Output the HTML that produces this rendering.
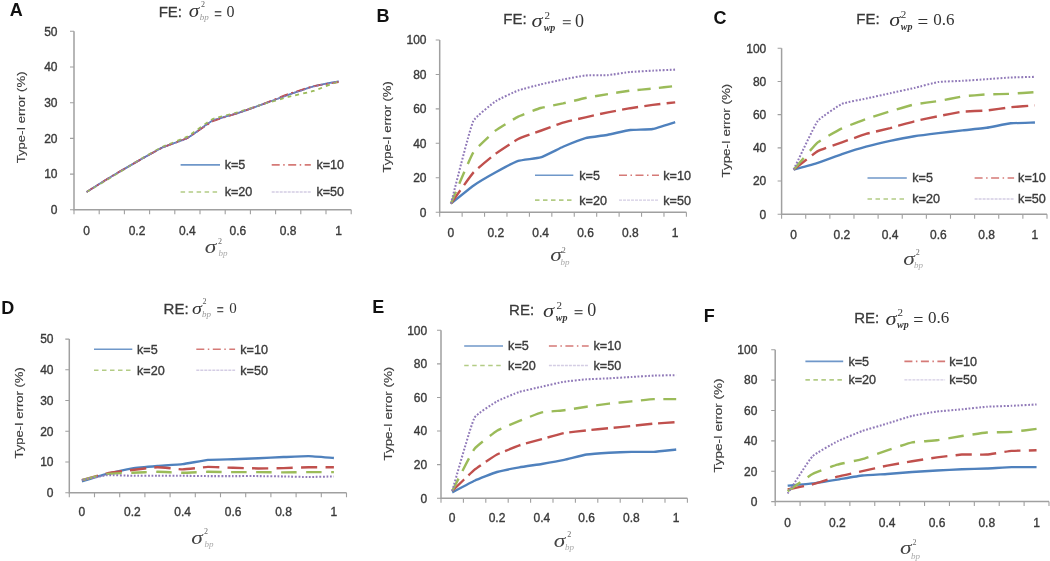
<!DOCTYPE html>
<html><head><meta charset="utf-8"><style>
html,body{margin:0;padding:0;background:#fff;}
body{width:1050px;height:561px;overflow:hidden;}
svg{display:block;filter:blur(0.45px);}
.t{font-family:"Liberation Sans",sans-serif;font-size:12px;fill:#3a3a3a;stroke:#3a3a3a;stroke-width:0.35px;}
.lg{font-size:12.6px;}
.yl{font-size:11.5px;stroke-width:0.15px;}
</style></head><body>
<svg width="1050" height="561" viewBox="0 0 1050 561">
<rect width="1050" height="561" fill="#fff"/>
<text x="9.80" y="16.02" font-family='"Liberation Sans"' font-style="normal" font-weight="bold" font-size="18" fill="#111">A</text>
<path d="M74 31.3V209.8H351.2" fill="none" stroke="#a0a0a0" stroke-width="1.5"/>
<path d="M70 209.8h4M70 174.1h4M70 138.4h4M70 102.7h4M70 67h4M70 31.3h4M74 209.8v4.5M99.2 209.8v4.5M124.4 209.8v4.5M149.6 209.8v4.5M174.8 209.8v4.5M200 209.8v4.5M225.2 209.8v4.5M250.4 209.8v4.5M275.6 209.8v4.5M300.8 209.8v4.5M326 209.8v4.5M351.2 209.8v4.5" stroke="#a0a0a0" stroke-width="1.1" fill="none"/>
<text x="57.5" y="214.1" text-anchor="end" class="t">0</text>
<text x="57.5" y="178.4" text-anchor="end" class="t">10</text>
<text x="57.5" y="142.7" text-anchor="end" class="t">20</text>
<text x="57.5" y="107" text-anchor="end" class="t">30</text>
<text x="57.5" y="71.3" text-anchor="end" class="t">40</text>
<text x="57.5" y="35.6" text-anchor="end" class="t">50</text>
<text x="86.6" y="234.9" text-anchor="middle" class="t">0</text>
<text x="137" y="234.9" text-anchor="middle" class="t">0.2</text>
<text x="187.4" y="234.9" text-anchor="middle" class="t">0.4</text>
<text x="237.8" y="234.9" text-anchor="middle" class="t">0.6</text>
<text x="288.2" y="234.9" text-anchor="middle" class="t">0.8</text>
<text x="338.6" y="234.9" text-anchor="middle" class="t">1</text>
<text transform="translate(24.7 117.4) rotate(-90)" text-anchor="middle" class="t yl" textLength="91.8" lengthAdjust="spacingAndGlyphs">Type-I error (%)</text>
<path d="M86.6 191.95C89.62 190.07 108.75 178.08 111.8 176.24C114.8 174.44 133.96 163.33 137 161.61C140.01 159.9 159.07 149.15 162.2 147.68C165.13 146.31 184.55 139.58 187.4 138.04C190.64 136.3 209.3 122.19 212.6 120.55C215.43 119.15 234.8 114.03 237.8 113.05C240.85 112.06 259.98 105.22 263 104.13C266.03 103.03 285.16 95.92 288.2 94.85C291.21 93.78 310.32 87.11 313.4 86.28C316.38 85.48 335.58 81.88 338.6 81.28" fill="none" stroke-linejoin="round" stroke="#4F81BD" stroke-width="1.8"/>
<path d="M86.6 191.95C89.62 190.07 108.75 178.08 111.8 176.24C114.8 174.44 133.96 163.33 137 161.61C140.01 159.9 159.07 149.15 162.2 147.68C165.13 146.31 184.53 139.55 187.4 138.04C190.62 136.36 209.35 122.88 212.6 121.26C215.45 119.85 234.79 114.08 237.8 113.05C240.84 112.02 260 105.26 263 104.13C266.05 102.98 285.13 95.22 288.2 94.13C291.19 93.07 310.32 87.02 313.4 86.28C316.38 85.56 335.58 82.51 338.6 81.99" fill="none" stroke-linejoin="round" stroke="#C0504D" stroke-width="1.8" stroke-dasharray="9 3.5 2 3.5"/>
<path d="M86.6 191.95C89.62 190.15 108.79 178.79 111.8 176.96C114.84 175.1 133.94 163.07 137 161.25C139.99 159.47 159.08 148.49 162.2 146.97C165.14 145.53 184.54 138.2 187.4 136.62C190.62 134.83 209.28 120.72 212.6 119.12C215.42 117.76 234.8 113.23 237.8 112.34C240.85 111.43 259.96 105.05 263 104.13C266.01 103.21 285.16 97.78 288.2 96.99C291.21 96.2 310.43 91.84 313.4 90.92C316.49 89.96 335.58 82.44 338.6 81.28" fill="none" stroke-linejoin="round" stroke="#9BBB59" stroke-width="1.8" stroke-dasharray="4 4"/>
<path d="M86.6 191.95C89.62 190.07 108.75 178.08 111.8 176.24C114.8 174.44 133.96 163.33 137 161.61C140.01 159.9 159.06 149.13 162.2 147.68C165.13 146.33 184.56 139.93 187.4 138.4C190.66 136.64 209.29 122.21 212.6 120.55C215.42 119.13 234.8 114.03 237.8 113.05C240.85 112.06 259.98 105.22 263 104.13C266.03 103.03 285.16 95.9 288.2 94.85C291.2 93.8 310.33 87.46 313.4 86.64C316.39 85.83 335.58 81.92 338.6 81.28" fill="none" stroke-linejoin="round" stroke="#9079b8" stroke-width="1.53" stroke-dasharray="1.8 1.7"/>
<path d="M180.6 164.9H220" stroke="#6f97c9" stroke-width="1.6"/>
<text x="224.7" y="169.3" class="t lg">k=5</text>
<path d="M271.7 164.9H310.8" stroke="#d57a77" stroke-width="1.6" stroke-dasharray="8 3.5 1.5 3.5"/>
<text x="316.4" y="169.3" class="t lg">k=10</text>
<path d="M180.6 192H220" stroke="#b3cc85" stroke-width="1.6" stroke-dasharray="4.5 3.5"/>
<text x="224.7" y="196.4" class="t lg">k=20</text>
<path d="M271.7 192H310.8" stroke="#d4cde4" stroke-width="1.4" stroke-dasharray="3 1"/>
<text x="316.4" y="196.4" class="t lg">k=50</text>
<text x="158.68" y="17.12" font-family='"Liberation Sans"' font-style="normal" font-weight="normal" font-size="15" fill="#3a3a3a" stroke="#3a3a3a" stroke-width="0.3">FE:</text>
<text transform="translate(194.60 12.85) scale(1.180 1) translate(-5.00 4.50)" font-family='"Liberation Serif"' font-style="italic" font-weight="normal" font-size="18" fill="#333333">σ</text>
<text x="200.97" y="7.47" font-family='"Liberation Serif"' font-style="normal" font-weight="normal" font-size="8" fill="#555">2</text>
<text x="199.80" y="20.43" font-family='"Liberation Serif"' font-style="italic" font-weight="normal" font-size="9" fill="#9a9a9a">bp</text>
<text x="214.25" y="17.52" font-family='"Liberation Sans"' font-style="normal" font-weight="bold" font-size="13" fill="#555">=</text>
<text x="226.60" y="16.83" font-family='"Liberation Serif"' font-style="normal" font-weight="normal" font-size="16" fill="#333333">0</text>
<text transform="translate(211.20 248.20) scale(1.300 1) translate(-5.00 4.50)" font-family='"Liberation Serif"' font-style="italic" font-weight="normal" font-size="18" fill="#444">σ</text>
<text x="218.07" y="243.53" font-family='"Liberation Serif"' font-style="normal" font-weight="normal" font-size="8" fill="#666">2</text>
<text x="218.40" y="256.38" font-family='"Liberation Serif"' font-style="italic" font-weight="normal" font-size="9" fill="#aaaaaa">bp</text>
<text x="376.40" y="21.88" font-family='"Liberation Sans"' font-style="normal" font-weight="bold" font-size="18" fill="#111">B</text>
<path d="M439.7 40V212.2H686.4" fill="none" stroke="#a0a0a0" stroke-width="1.5"/>
<path d="M435.7 212.2h4M435.7 177.76h4M435.7 143.32h4M435.7 108.88h4M435.7 74.44h4M435.7 40h4M439.7 212.2v4.5M462.13 212.2v4.5M484.55 212.2v4.5M506.98 212.2v4.5M529.41 212.2v4.5M551.84 212.2v4.5M574.26 212.2v4.5M596.69 212.2v4.5M619.12 212.2v4.5M641.55 212.2v4.5M663.97 212.2v4.5M686.4 212.2v4.5" stroke="#a0a0a0" stroke-width="1.1" fill="none"/>
<text x="426.5" y="216.5" text-anchor="end" class="t">0</text>
<text x="426.5" y="182.06" text-anchor="end" class="t">20</text>
<text x="426.5" y="147.62" text-anchor="end" class="t">40</text>
<text x="426.5" y="113.18" text-anchor="end" class="t">60</text>
<text x="426.5" y="78.74" text-anchor="end" class="t">80</text>
<text x="426.5" y="44.3" text-anchor="end" class="t">100</text>
<text x="450.91" y="236.8" text-anchor="middle" class="t">0</text>
<text x="495.77" y="236.8" text-anchor="middle" class="t">0.2</text>
<text x="540.62" y="236.8" text-anchor="middle" class="t">0.4</text>
<text x="585.48" y="236.8" text-anchor="middle" class="t">0.6</text>
<text x="630.33" y="236.8" text-anchor="middle" class="t">0.8</text>
<text x="675.19" y="236.8" text-anchor="middle" class="t">1</text>
<text transform="translate(391.2 126.9) rotate(-90)" text-anchor="middle" class="t yl" textLength="91.3" lengthAdjust="spacingAndGlyphs">Type-I error (%)</text>
<path d="M450.91 203.59C453.6 201.44 470.52 187.65 473.34 185.68C475.91 183.88 493.02 173.77 495.77 172.25C498.41 170.79 515.33 161.83 518.2 160.88C520.78 160.03 538.03 158.26 540.62 157.44C543.47 156.55 560.31 147.94 563.05 146.76C565.7 145.63 582.69 138.9 585.48 138.15C588.11 137.45 605.22 135.19 607.9 134.71C610.61 134.22 627.61 130.41 630.33 130.06C633 129.72 650.11 129.5 652.76 129.03C655.53 128.54 672.5 122.97 675.19 122.14" fill="none" stroke-linejoin="round" stroke="#4F81BD" stroke-width="2.4"/>
<path d="M450.91 203.59C453.6 199.87 470.27 176.01 473.34 172.59C475.69 169.97 492.95 155.76 495.77 153.65C498.34 151.73 515.33 140.48 518.2 139.01C520.75 137.71 537.93 131.73 540.62 130.75C543.31 129.77 560.31 123.48 563.05 122.66C565.7 121.86 582.78 117.94 585.48 117.32C588.16 116.7 605.2 112.87 607.9 112.32C610.59 111.78 627.63 108.64 630.33 108.19C633.02 107.75 650.06 105.27 652.76 104.92C655.45 104.57 672.5 102.65 675.19 102.34" fill="none" stroke-linejoin="round" stroke="#C0504D" stroke-width="2.4" stroke-dasharray="16.5 6"/>
<path d="M450.91 203.59C453.6 197.43 469.83 158 473.34 152.27C475.31 149.07 492.83 132.74 495.77 130.4C498.24 128.44 515.37 118.04 518.2 116.63C520.77 115.34 537.86 108.84 540.62 108.02C543.26 107.24 560.37 103.97 563.05 103.37C565.75 102.77 582.77 98.59 585.48 98.03C588.15 97.48 605.21 94.52 607.9 94.07C610.59 93.63 627.63 90.96 630.33 90.63C633.01 90.3 650.07 88.84 652.76 88.56C655.45 88.28 672.5 86.29 675.19 85.98" fill="none" stroke-linejoin="round" stroke="#9BBB59" stroke-width="2.4" stroke-dasharray="13 8.5"/>
<path d="M450.91 203.59C453.6 193.67 469.22 130.35 473.34 120.93C474.78 117.65 492.8 103.15 495.77 101.13C498.23 99.46 515.4 91.49 518.2 90.45C520.81 89.48 537.92 85.09 540.62 84.43C543.3 83.77 560.35 79.97 563.05 79.43C565.73 78.9 582.76 75.73 585.48 75.47C588.16 75.22 605.22 75.33 607.9 75.13C610.61 74.92 627.63 72.3 630.33 72.03C633.01 71.76 650.07 70.8 652.76 70.65C655.45 70.51 672.5 69.74 675.19 69.62" fill="none" stroke-linejoin="round" stroke="#9079b8" stroke-width="2.04" stroke-dasharray="1.8 1.7"/>
<path d="M535 175.3H573.3" stroke="#6f97c9" stroke-width="1.6"/>
<text x="579.3" y="179.7" class="t lg">k=5</text>
<path d="M619 175.3H659" stroke="#d57a77" stroke-width="1.6" stroke-dasharray="8 3.5 1.5 3.5"/>
<text x="663.3" y="179.7" class="t lg">k=10</text>
<path d="M535 200.1H573.3" stroke="#b3cc85" stroke-width="1.6" stroke-dasharray="4.5 3.5"/>
<text x="579.3" y="204.5" class="t lg">k=20</text>
<path d="M619 200.1H659" stroke="#d4cde4" stroke-width="1.4" stroke-dasharray="3 1"/>
<text x="663.3" y="204.5" class="t lg">k=50</text>
<text x="503.23" y="23.98" font-family='"Liberation Sans"' font-style="normal" font-weight="normal" font-size="15" fill="#3a3a3a" stroke="#3a3a3a" stroke-width="0.3">FE:</text>
<text transform="translate(537.65 22.30) scale(1.180 1) translate(-5.25 4.75)" font-family='"Liberation Serif"' font-style="italic" font-weight="normal" font-size="19" fill="#333333">σ</text>
<text x="544.60" y="18.57" font-family='"Liberation Serif"' font-style="normal" font-weight="normal" font-size="11" fill="#333333">2</text>
<text x="543.70" y="31.10" font-family='"Liberation Serif"' font-style="italic" font-weight="bold" font-size="10" fill="#333333">wp</text>
<text x="562.00" y="28.42" font-family='"Liberation Serif"' font-style="normal" font-weight="bold" font-size="17" fill="#666">=</text>
<text x="575.05" y="27.12" font-family='"Liberation Serif"' font-style="normal" font-weight="normal" font-size="18" fill="#333333">0</text>
<text transform="translate(556.75 256.15) scale(1.300 1) translate(-5.00 4.50)" font-family='"Liberation Serif"' font-style="italic" font-weight="normal" font-size="18" fill="#444">σ</text>
<text x="561.83" y="252.72" font-family='"Liberation Serif"' font-style="normal" font-weight="normal" font-size="8" fill="#666">2</text>
<text x="560.45" y="264.58" font-family='"Liberation Serif"' font-style="italic" font-weight="normal" font-size="9" fill="#aaaaaa">bp</text>
<text x="713.52" y="23.58" font-family='"Liberation Sans"' font-style="normal" font-weight="bold" font-size="18" fill="#111">C</text>
<path d="M781.6 48.3V214.2H1047" fill="none" stroke="#a0a0a0" stroke-width="1.5"/>
<path d="M777.6 214.2h4M777.6 181.02h4M777.6 147.84h4M777.6 114.66h4M777.6 81.48h4M777.6 48.3h4M781.6 214.2v4.5M805.73 214.2v4.5M829.85 214.2v4.5M853.98 214.2v4.5M878.11 214.2v4.5M902.24 214.2v4.5M926.36 214.2v4.5M950.49 214.2v4.5M974.62 214.2v4.5M998.75 214.2v4.5M1022.87 214.2v4.5M1047 214.2v4.5" stroke="#a0a0a0" stroke-width="1.1" fill="none"/>
<text x="766.3" y="218.5" text-anchor="end" class="t">0</text>
<text x="766.3" y="185.32" text-anchor="end" class="t">20</text>
<text x="766.3" y="152.14" text-anchor="end" class="t">40</text>
<text x="766.3" y="118.96" text-anchor="end" class="t">60</text>
<text x="766.3" y="85.78" text-anchor="end" class="t">80</text>
<text x="766.3" y="52.6" text-anchor="end" class="t">100</text>
<text x="793.66" y="238.6" text-anchor="middle" class="t">0</text>
<text x="841.92" y="238.6" text-anchor="middle" class="t">0.2</text>
<text x="890.17" y="238.6" text-anchor="middle" class="t">0.4</text>
<text x="938.43" y="238.6" text-anchor="middle" class="t">0.6</text>
<text x="986.68" y="238.6" text-anchor="middle" class="t">0.8</text>
<text x="1034.94" y="238.6" text-anchor="middle" class="t">1</text>
<text transform="translate(730.1 130.6) rotate(-90)" text-anchor="middle" class="t yl" textLength="93.8" lengthAdjust="spacingAndGlyphs">Type-I error (%)</text>
<path d="M793.66 169.57C796.56 168.76 814.93 163.69 817.79 162.77C820.72 161.83 839 155.12 841.92 154.14C844.79 153.19 863.12 147.48 866.05 146.68C868.92 145.89 887.26 141.5 890.17 140.87C893.05 140.25 911.39 136.7 914.3 136.23C917.18 135.76 935.53 133.42 938.43 133.07C941.32 132.73 959.66 130.74 962.55 130.42C965.45 130.1 983.8 128.19 986.68 127.77C989.59 127.34 1007.88 123.61 1010.81 123.29C1013.69 122.97 1032.04 122.56 1034.94 122.46" fill="none" stroke-linejoin="round" stroke="#4F81BD" stroke-width="2.4"/>
<path d="M793.66 169.57C796.56 167.36 814.62 152.95 817.79 151.16C820.48 149.64 839.02 143.4 841.92 142.37C844.81 141.33 863.1 134.77 866.05 133.9C868.9 133.06 887.29 128.85 890.17 128.1C893.08 127.34 911.38 122.02 914.3 121.3C917.17 120.58 935.52 116.73 938.43 116.15C941.32 115.58 959.63 112.02 962.55 111.67C965.43 111.34 983.8 110.78 986.68 110.51C989.59 110.24 1007.9 107.5 1010.81 107.19C1013.7 106.89 1032.04 105.59 1034.94 105.37" fill="none" stroke-linejoin="round" stroke="#C0504D" stroke-width="2.4" stroke-dasharray="16.5 6.5"/>
<path d="M793.66 169.57C796.56 166.31 814.47 145.2 817.79 142.37C820.34 140.2 838.91 129.89 841.92 128.43C844.72 127.07 863.11 120.01 866.05 118.97C868.91 117.96 887.27 112.22 890.17 111.34C893.06 110.47 911.35 105 914.3 104.37C917.16 103.76 935.54 101.53 938.43 101.06C941.34 100.58 959.63 96.81 962.55 96.41C965.43 96.02 983.78 94.58 986.68 94.42C989.57 94.26 1007.92 93.9 1010.81 93.76C1013.71 93.62 1032.04 92.3 1034.94 92.1" fill="none" stroke-linejoin="round" stroke="#9BBB59" stroke-width="2.4" stroke-dasharray="15.5 9"/>
<path d="M793.66 169.57C796.56 163.74 813.94 126.21 817.79 120.96C819.89 118.1 838.7 105.37 841.92 103.88C844.61 102.63 863.15 99.2 866.05 98.57C868.94 97.93 887.28 93.9 890.17 93.26C893.07 92.62 911.41 88.62 914.3 87.95C917.2 87.27 935.48 82.41 938.43 81.98C941.29 81.55 959.66 80.99 962.55 80.82C965.45 80.65 983.79 79.36 986.68 79.16C989.58 78.96 1007.91 77.64 1010.81 77.5C1013.7 77.36 1032.04 76.91 1034.94 76.83" fill="none" stroke-linejoin="round" stroke="#9079b8" stroke-width="2.04" stroke-dasharray="1.8 1.7"/>
<path d="M867.5 178H906.8" stroke="#6f97c9" stroke-width="1.6"/>
<text x="912.3" y="182.4" class="t lg">k=5</text>
<path d="M974.6 178H1014.1" stroke="#d57a77" stroke-width="1.6" stroke-dasharray="8 3.5 1.5 3.5"/>
<text x="1018.1" y="182.4" class="t lg">k=10</text>
<path d="M867.5 199H906.8" stroke="#b3cc85" stroke-width="1.6" stroke-dasharray="4.5 3.5"/>
<text x="912.3" y="203.4" class="t lg">k=20</text>
<path d="M974.6 199H1014.1" stroke="#d4cde4" stroke-width="1.4" stroke-dasharray="3 1"/>
<text x="1018.1" y="203.4" class="t lg">k=50</text>
<text x="856.23" y="24.02" font-family='"Liberation Sans"' font-style="normal" font-weight="normal" font-size="15" fill="#3a3a3a" stroke="#3a3a3a" stroke-width="0.3">FE:</text>
<text transform="translate(895.40 21.70) scale(1.180 1) translate(-5.25 4.75)" font-family='"Liberation Serif"' font-style="italic" font-weight="normal" font-size="19" fill="#333333">σ</text>
<text x="900.70" y="18.23" font-family='"Liberation Serif"' font-style="normal" font-weight="normal" font-size="11" fill="#333333">2</text>
<text x="900.75" y="30.40" font-family='"Liberation Serif"' font-style="italic" font-weight="bold" font-size="10" fill="#333333">wp</text>
<text x="917.58" y="28.07" font-family='"Liberation Serif"' font-style="normal" font-weight="normal" font-size="19" fill="#333333">=</text>
<text x="933.25" y="24.70" font-family='"Liberation Serif"' font-style="normal" font-weight="normal" font-size="17" fill="#333333">0.6</text>
<text transform="translate(909.75 260.00) scale(1.300 1) translate(-5.00 4.50)" font-family='"Liberation Serif"' font-style="italic" font-weight="normal" font-size="18" fill="#444">σ</text>
<text x="915.77" y="255.12" font-family='"Liberation Serif"' font-style="normal" font-weight="normal" font-size="8" fill="#666">2</text>
<text x="914.00" y="268.12" font-family='"Liberation Serif"' font-style="italic" font-weight="normal" font-size="9" fill="#aaaaaa">bp</text>
<text x="1.35" y="314.08" font-family='"Liberation Sans"' font-style="normal" font-weight="bold" font-size="18" fill="#111">D</text>
<path d="M69.3 339.1V492.7H346.5" fill="none" stroke="#a0a0a0" stroke-width="1.5"/>
<path d="M65.3 492.7h4M65.3 461.98h4M65.3 431.26h4M65.3 400.54h4M65.3 369.82h4M65.3 339.1h4M69.3 492.7v4.5M94.5 492.7v4.5M119.7 492.7v4.5M144.9 492.7v4.5M170.1 492.7v4.5M195.3 492.7v4.5M220.5 492.7v4.5M245.7 492.7v4.5M270.9 492.7v4.5M296.1 492.7v4.5M321.3 492.7v4.5M346.5 492.7v4.5" stroke="#a0a0a0" stroke-width="1.1" fill="none"/>
<text x="53.5" y="497" text-anchor="end" class="t">0</text>
<text x="53.5" y="466.28" text-anchor="end" class="t">10</text>
<text x="53.5" y="435.56" text-anchor="end" class="t">20</text>
<text x="53.5" y="404.84" text-anchor="end" class="t">30</text>
<text x="53.5" y="374.12" text-anchor="end" class="t">40</text>
<text x="53.5" y="343.4" text-anchor="end" class="t">50</text>
<text x="81.9" y="516.3" text-anchor="middle" class="t">0</text>
<text x="132.3" y="516.3" text-anchor="middle" class="t">0.2</text>
<text x="182.7" y="516.3" text-anchor="middle" class="t">0.4</text>
<text x="233.1" y="516.3" text-anchor="middle" class="t">0.6</text>
<text x="283.5" y="516.3" text-anchor="middle" class="t">0.8</text>
<text x="333.9" y="516.3" text-anchor="middle" class="t">1</text>
<text transform="translate(22.7 412.9) rotate(-90)" text-anchor="middle" class="t yl" textLength="91.3" lengthAdjust="spacingAndGlyphs">Type-I error (%)</text>
<path d="M81.9 481.33C84.92 480.45 104.05 474.74 107.1 473.96C110.1 473.19 129.24 468.92 132.3 468.43C135.3 467.96 154.47 466.23 157.5 465.97C160.52 465.72 179.69 464.5 182.7 464.13C185.75 463.76 204.85 460.13 207.9 459.83C210.91 459.54 230.08 459.31 233.1 459.22C236.12 459.12 255.28 458.42 258.3 458.29C261.32 458.16 280.48 457.19 283.5 457.06C286.52 456.94 305.67 456.09 308.7 456.14C311.73 456.2 330.88 457.77 333.9 457.99" fill="none" stroke-linejoin="round" stroke="#4F81BD" stroke-width="2.4"/>
<path d="M81.9 480.1C84.92 479.29 104.03 473.96 107.1 473.35C110.09 472.74 129.27 470.34 132.3 469.97C135.32 469.6 154.46 467.24 157.5 467.2C160.53 467.17 179.67 469.37 182.7 469.35C185.74 469.33 204.86 466.99 207.9 466.9C210.92 466.8 230.08 467.72 233.1 467.82C236.12 467.91 255.28 468.41 258.3 468.43C261.32 468.45 280.48 468.2 283.5 468.12C286.53 468.05 305.67 467.26 308.7 467.2C311.72 467.15 330.88 467.2 333.9 467.2" fill="none" stroke-linejoin="round" stroke="#C0504D" stroke-width="2.4" stroke-dasharray="16.5 8"/>
<path d="M81.9 480.1C84.92 479.37 104.02 474.41 107.1 473.96C110.1 473.52 129.28 472.86 132.3 472.73C135.32 472.6 154.47 471.81 157.5 471.81C160.53 471.81 179.67 472.73 182.7 472.73C185.73 472.73 204.87 471.85 207.9 471.81C210.92 471.77 230.08 472.1 233.1 472.12C236.12 472.14 255.28 472.1 258.3 472.12C261.32 472.14 280.48 472.42 283.5 472.42C286.52 472.42 305.68 472.14 308.7 472.12C311.72 472.1 330.88 472.12 333.9 472.12" fill="none" stroke-linejoin="round" stroke="#9BBB59" stroke-width="2.4" stroke-dasharray="15.5 9.5"/>
<path d="M81.9 480.1C84.92 479.51 104.03 475.45 107.1 475.19C110.11 474.93 129.28 475.77 132.3 475.8C135.32 475.84 154.48 475.8 157.5 475.8C160.52 475.8 179.68 475.79 182.7 475.8C185.72 475.82 204.88 476.09 207.9 476.11C210.92 476.13 230.08 476.11 233.1 476.11C236.12 476.11 255.28 476.09 258.3 476.11C261.32 476.13 280.48 476.36 283.5 476.42C286.52 476.47 305.68 477.03 308.7 477.03C311.72 477.03 330.88 476.49 333.9 476.42" fill="none" stroke-linejoin="round" stroke="#9079b8" stroke-width="2.04" stroke-dasharray="1.8 1.7"/>
<path d="M94 349.3H132.3" stroke="#6f97c9" stroke-width="1.6"/>
<text x="137" y="353.7" class="t lg">k=5</text>
<path d="M196.3 349.3H235.1" stroke="#d57a77" stroke-width="1.6" stroke-dasharray="8 3.5 1.5 3.5"/>
<text x="240.3" y="353.7" class="t lg">k=10</text>
<path d="M94 370.2H132.3" stroke="#b3cc85" stroke-width="1.6" stroke-dasharray="4.5 3.5"/>
<text x="137" y="374.6" class="t lg">k=20</text>
<path d="M196.3 370.2H235.1" stroke="#d4cde4" stroke-width="1.4" stroke-dasharray="3 1"/>
<text x="240.3" y="374.6" class="t lg">k=50</text>
<text x="163.57" y="314.43" font-family='"Liberation Sans"' font-style="normal" font-weight="normal" font-size="15" fill="#3a3a3a" stroke="#3a3a3a" stroke-width="0.3">RE:</text>
<text transform="translate(197.60 309.55) scale(1.180 1) translate(-4.75 4.25)" font-family='"Liberation Serif"' font-style="italic" font-weight="normal" font-size="17" fill="#333333">σ</text>
<text x="202.43" y="304.02" font-family='"Liberation Serif"' font-style="normal" font-weight="normal" font-size="8" fill="#555">2</text>
<text x="201.95" y="316.88" font-family='"Liberation Serif"' font-style="italic" font-weight="normal" font-size="9" fill="#9a9a9a">bp</text>
<text x="216.75" y="313.80" font-family='"Liberation Sans"' font-style="normal" font-weight="bold" font-size="12" fill="#555">=</text>
<text x="229.35" y="312.85" font-family='"Liberation Serif"' font-style="normal" font-weight="normal" font-size="15" fill="#333333">0</text>
<text transform="translate(197.75 539.20) scale(1.300 1) translate(-5.00 4.50)" font-family='"Liberation Serif"' font-style="italic" font-weight="normal" font-size="18" fill="#444">σ</text>
<text x="204.07" y="534.02" font-family='"Liberation Serif"' font-style="normal" font-weight="normal" font-size="8" fill="#666">2</text>
<text x="204.55" y="547.48" font-family='"Liberation Serif"' font-style="italic" font-weight="normal" font-size="9" fill="#aaaaaa">bp</text>
<text x="372.25" y="313.12" font-family='"Liberation Sans"' font-style="normal" font-weight="bold" font-size="18" fill="#111">E</text>
<path d="M441 330.3V498.2H687.4" fill="none" stroke="#a0a0a0" stroke-width="1.5"/>
<path d="M437 498.2h4M437 464.62h4M437 431.04h4M437 397.46h4M437 363.88h4M437 330.3h4M441 498.2v4.5M463.4 498.2v4.5M485.8 498.2v4.5M508.2 498.2v4.5M530.6 498.2v4.5M553 498.2v4.5M575.4 498.2v4.5M597.8 498.2v4.5M620.2 498.2v4.5M642.6 498.2v4.5M665 498.2v4.5M687.4 498.2v4.5" stroke="#a0a0a0" stroke-width="1.1" fill="none"/>
<text x="427.2" y="502.5" text-anchor="end" class="t">0</text>
<text x="427.2" y="468.92" text-anchor="end" class="t">20</text>
<text x="427.2" y="435.34" text-anchor="end" class="t">40</text>
<text x="427.2" y="401.76" text-anchor="end" class="t">60</text>
<text x="427.2" y="368.18" text-anchor="end" class="t">80</text>
<text x="427.2" y="334.6" text-anchor="end" class="t">100</text>
<text x="452.2" y="522" text-anchor="middle" class="t">0</text>
<text x="497" y="522" text-anchor="middle" class="t">0.2</text>
<text x="541.8" y="522" text-anchor="middle" class="t">0.4</text>
<text x="586.6" y="522" text-anchor="middle" class="t">0.6</text>
<text x="631.4" y="522" text-anchor="middle" class="t">0.8</text>
<text x="676.2" y="522" text-anchor="middle" class="t">1</text>
<text transform="translate(392.2 413.6) rotate(-90)" text-anchor="middle" class="t yl" textLength="93.8" lengthAdjust="spacingAndGlyphs">Type-I error (%)</text>
<path d="M452.2 492.32C454.89 490.93 471.84 481.99 474.6 480.74C477.23 479.55 494.24 472.84 497 472.01C499.63 471.22 516.7 467.79 519.4 467.31C522.08 466.83 539.12 464.39 541.8 463.95C544.49 463.5 561.53 460.48 564.2 459.92C566.91 459.35 583.87 454.99 586.6 454.55C589.26 454.12 606.31 452.86 609 452.7C611.69 452.54 628.71 451.91 631.4 451.86C634.09 451.81 651.12 452 653.8 451.86C656.5 451.72 673.51 449.79 676.2 449.51" fill="none" stroke-linejoin="round" stroke="#4F81BD" stroke-width="2.4"/>
<path d="M452.2 490.98C454.89 488.42 471.72 472 474.6 469.66C477.12 467.61 494.15 456.09 497 454.55C499.55 453.16 516.65 446.26 519.4 445.31C522.04 444.4 539.11 439.84 541.8 439.1C544.49 438.36 561.47 433.59 564.2 433.05C566.86 432.54 583.91 430.66 586.6 430.37C589.28 430.08 606.31 428.45 609 428.19C611.69 427.92 628.71 426.27 631.4 426C634.09 425.73 651.11 423.88 653.8 423.65C656.48 423.42 673.51 422.32 676.2 422.14" fill="none" stroke-linejoin="round" stroke="#C0504D" stroke-width="2.4" stroke-dasharray="16.5 5.8"/>
<path d="M452.2 490.98C454.89 485.9 471.17 453.28 474.6 448.67C476.66 445.9 494.07 432.52 497 430.7C499.49 429.16 516.69 422.07 519.4 420.97C522.06 419.88 539 413.07 541.8 412.4C544.43 411.77 561.52 410.56 564.2 410.22C566.9 409.88 583.91 407.09 586.6 406.69C589.28 406.3 606.31 404 609 403.67C611.68 403.35 628.71 401.59 631.4 401.32C634.09 401.05 651.1 399.27 653.8 399.14C656.48 399.01 673.51 399.14 676.2 399.14" fill="none" stroke-linejoin="round" stroke="#9BBB59" stroke-width="2.4" stroke-dasharray="14 8.5"/>
<path d="M452.2 490.98C454.89 482.16 470.48 425.69 474.6 417.44C476.08 414.48 494.12 402.96 497 401.32C499.53 399.88 516.63 392.82 519.4 391.92C522.02 391.06 539.11 387.33 541.8 386.71C544.49 386.1 561.48 382.13 564.2 381.68C566.87 381.24 583.9 379.53 586.6 379.33C589.28 379.13 606.31 378.46 609 378.32C611.69 378.18 628.71 377.14 631.4 376.98C634.09 376.82 651.11 375.74 653.8 375.63C656.49 375.52 673.51 375.19 676.2 375.13" fill="none" stroke-linejoin="round" stroke="#9079b8" stroke-width="2.04" stroke-dasharray="1.8 1.7"/>
<path d="M464.2 346H503" stroke="#6f97c9" stroke-width="1.6"/>
<text x="508.1" y="350.4" class="t lg">k=5</text>
<path d="M548.9 346H588.7" stroke="#d57a77" stroke-width="1.6" stroke-dasharray="8 3.5 1.5 3.5"/>
<text x="593.5" y="350.4" class="t lg">k=10</text>
<path d="M464.2 365.5H503" stroke="#b3cc85" stroke-width="1.6" stroke-dasharray="4.5 3.5"/>
<text x="508.1" y="369.9" class="t lg">k=20</text>
<path d="M548.9 365.5H588.7" stroke="#d4cde4" stroke-width="1.4" stroke-dasharray="3 1"/>
<text x="593.5" y="369.9" class="t lg">k=50</text>
<text x="509.08" y="314.52" font-family='"Liberation Sans"' font-style="normal" font-weight="normal" font-size="15" fill="#3a3a3a" stroke="#3a3a3a" stroke-width="0.3">RE:</text>
<text transform="translate(549.25 312.30) scale(1.180 1) translate(-5.25 4.75)" font-family='"Liberation Serif"' font-style="italic" font-weight="normal" font-size="19" fill="#333333">σ</text>
<text x="556.45" y="308.58" font-family='"Liberation Serif"' font-style="normal" font-weight="normal" font-size="11" fill="#333333">2</text>
<text x="555.75" y="320.60" font-family='"Liberation Serif"' font-style="italic" font-weight="bold" font-size="10" fill="#333333">wp</text>
<text x="573.85" y="318.17" font-family='"Liberation Serif"' font-style="normal" font-weight="bold" font-size="17" fill="#555">=</text>
<text x="587.15" y="316.32" font-family='"Liberation Serif"' font-style="normal" font-weight="normal" font-size="18" fill="#333333">0</text>
<text transform="translate(560.30 542.30) scale(1.300 1) translate(-5.00 4.50)" font-family='"Liberation Serif"' font-style="italic" font-weight="normal" font-size="18" fill="#444">σ</text>
<text x="567.17" y="536.88" font-family='"Liberation Serif"' font-style="normal" font-weight="normal" font-size="8" fill="#666">2</text>
<text x="565.05" y="549.72" font-family='"Liberation Serif"' font-style="italic" font-weight="normal" font-size="9" fill="#aaaaaa">bp</text>
<text x="703.75" y="322.17" font-family='"Liberation Sans"' font-style="normal" font-weight="bold" font-size="18" fill="#111">F</text>
<path d="M775.2 349.8V501.6H1049" fill="none" stroke="#a0a0a0" stroke-width="1.5"/>
<path d="M771.2 501.6h4M771.2 471.24h4M771.2 440.88h4M771.2 410.52h4M771.2 380.16h4M771.2 349.8h4M775.2 501.6v4.5M800.09 501.6v4.5M824.98 501.6v4.5M849.87 501.6v4.5M874.76 501.6v4.5M899.65 501.6v4.5M924.55 501.6v4.5M949.44 501.6v4.5M974.33 501.6v4.5M999.22 501.6v4.5M1024.11 501.6v4.5M1049 501.6v4.5" stroke="#a0a0a0" stroke-width="1.1" fill="none"/>
<text x="757.4" y="505.9" text-anchor="end" class="t">0</text>
<text x="757.4" y="475.54" text-anchor="end" class="t">20</text>
<text x="757.4" y="445.18" text-anchor="end" class="t">40</text>
<text x="757.4" y="414.82" text-anchor="end" class="t">60</text>
<text x="757.4" y="384.46" text-anchor="end" class="t">80</text>
<text x="757.4" y="354.1" text-anchor="end" class="t">100</text>
<text x="787.65" y="526.8" text-anchor="middle" class="t">0</text>
<text x="837.43" y="526.8" text-anchor="middle" class="t">0.2</text>
<text x="887.21" y="526.8" text-anchor="middle" class="t">0.4</text>
<text x="936.99" y="526.8" text-anchor="middle" class="t">0.6</text>
<text x="986.77" y="526.8" text-anchor="middle" class="t">0.8</text>
<text x="1036.55" y="526.8" text-anchor="middle" class="t">1</text>
<text transform="translate(722.1 425.6) rotate(-90)" text-anchor="middle" class="t yl" textLength="94" lengthAdjust="spacingAndGlyphs">Type-I error (%)</text>
<path d="M787.65 485.66C790.63 485.39 809.56 483.75 812.54 483.38C815.54 483.02 834.44 480.06 837.43 479.59C840.42 479.11 859.31 475.83 862.32 475.49C865.29 475.15 884.22 474.18 887.21 473.97C890.2 473.76 909.11 472.21 912.1 472C915.09 471.79 934 470.65 936.99 470.48C939.98 470.32 958.89 469.39 961.88 469.27C964.87 469.15 983.79 468.64 986.77 468.51C989.76 468.38 1008.67 467.22 1011.66 467.14C1014.65 467.06 1033.57 467.14 1036.55 467.14" fill="none" stroke-linejoin="round" stroke="#4F81BD" stroke-width="2.4"/>
<path d="M787.65 489.46C790.63 488.84 809.58 485.05 812.54 484.29C815.56 483.52 834.41 477.51 837.43 476.7C840.39 475.92 859.33 471.75 862.32 471.09C865.3 470.42 884.21 466.22 887.21 465.62C890.18 465.03 909.11 461.71 912.1 461.22C915.08 460.73 934 457.83 936.99 457.43C939.97 457.03 958.88 454.72 961.88 454.54C964.86 454.37 983.79 454.76 986.77 454.54C989.78 454.32 1008.66 451.16 1011.66 450.9C1014.64 450.64 1033.57 450.36 1036.55 450.29" fill="none" stroke-linejoin="round" stroke="#C0504D" stroke-width="2.4" stroke-dasharray="16.5 8"/>
<path d="M787.65 491.28C790.63 489.2 809.33 475.69 812.54 473.97C815.35 472.47 834.37 465.63 837.43 464.71C840.36 463.84 859.38 459.95 862.32 459.1C865.36 458.21 884.21 451.3 887.21 450.29C890.18 449.3 909.03 443.02 912.1 442.4C915.04 441.81 934.02 440.65 936.99 440.27C940 439.89 958.89 436.49 961.88 436.02C964.86 435.56 983.77 432.78 986.77 432.53C989.75 432.29 1008.68 432.14 1011.66 431.92C1014.66 431.7 1033.57 429.25 1036.55 428.89" fill="none" stroke-linejoin="round" stroke="#9BBB59" stroke-width="2.4" stroke-dasharray="15.5 9"/>
<path d="M787.65 493.55C790.63 489.07 808.82 460.11 812.54 456.21C814.94 453.69 834.32 442.91 837.43 441.34C840.31 439.88 859.27 432.1 862.32 431.01C865.25 429.97 884.23 424.48 887.21 423.57C890.2 422.66 909.06 416.57 912.1 415.83C915.05 415.12 933.99 411.98 936.99 411.58C939.96 411.19 958.9 409.6 961.88 409.31C964.87 409.01 983.78 406.94 986.77 406.73C989.75 406.52 1008.68 405.95 1011.66 405.81C1014.65 405.68 1033.57 404.61 1036.55 404.45" fill="none" stroke-linejoin="round" stroke="#9079b8" stroke-width="2.04" stroke-dasharray="1.8 1.7"/>
<path d="M805.4 361.4H843.2" stroke="#6f97c9" stroke-width="1.6"/>
<text x="848.4" y="365.8" class="t lg">k=5</text>
<path d="M904.4 361.4H945.1" stroke="#d57a77" stroke-width="1.6" stroke-dasharray="8 3.5 1.5 3.5"/>
<text x="949.3" y="365.8" class="t lg">k=10</text>
<path d="M805.4 379.9H843.2" stroke="#b3cc85" stroke-width="1.6" stroke-dasharray="4.5 3.5"/>
<text x="848.4" y="384.3" class="t lg">k=20</text>
<path d="M904.4 379.9H945.1" stroke="#d4cde4" stroke-width="1.4" stroke-dasharray="3 1"/>
<text x="949.3" y="384.3" class="t lg">k=50</text>
<text x="854.27" y="322.77" font-family='"Liberation Sans"' font-style="normal" font-weight="normal" font-size="15" fill="#3a3a3a" stroke="#3a3a3a" stroke-width="0.3">RE:</text>
<text transform="translate(891.70 319.80) scale(1.180 1) translate(-5.25 4.75)" font-family='"Liberation Serif"' font-style="italic" font-weight="normal" font-size="19" fill="#333333">σ</text>
<text x="897.60" y="315.67" font-family='"Liberation Serif"' font-style="normal" font-weight="normal" font-size="11" fill="#333333">2</text>
<text x="897.05" y="328.15" font-family='"Liberation Serif"' font-style="italic" font-weight="bold" font-size="10" fill="#333333">wp</text>
<text x="913.23" y="325.80" font-family='"Liberation Serif"' font-style="normal" font-weight="normal" font-size="18" fill="#333333">=</text>
<text x="928.00" y="323.45" font-family='"Liberation Serif"' font-style="normal" font-weight="normal" font-size="17" fill="#333333">0.6</text>
<text transform="translate(906.60 549.75) scale(1.300 1) translate(-5.00 4.50)" font-family='"Liberation Serif"' font-style="italic" font-weight="normal" font-size="18" fill="#444">σ</text>
<text x="912.47" y="544.88" font-family='"Liberation Serif"' font-style="normal" font-weight="normal" font-size="8" fill="#666">2</text>
<text x="910.95" y="558.52" font-family='"Liberation Serif"' font-style="italic" font-weight="normal" font-size="9" fill="#aaaaaa">bp</text>
</svg>
</body></html>
